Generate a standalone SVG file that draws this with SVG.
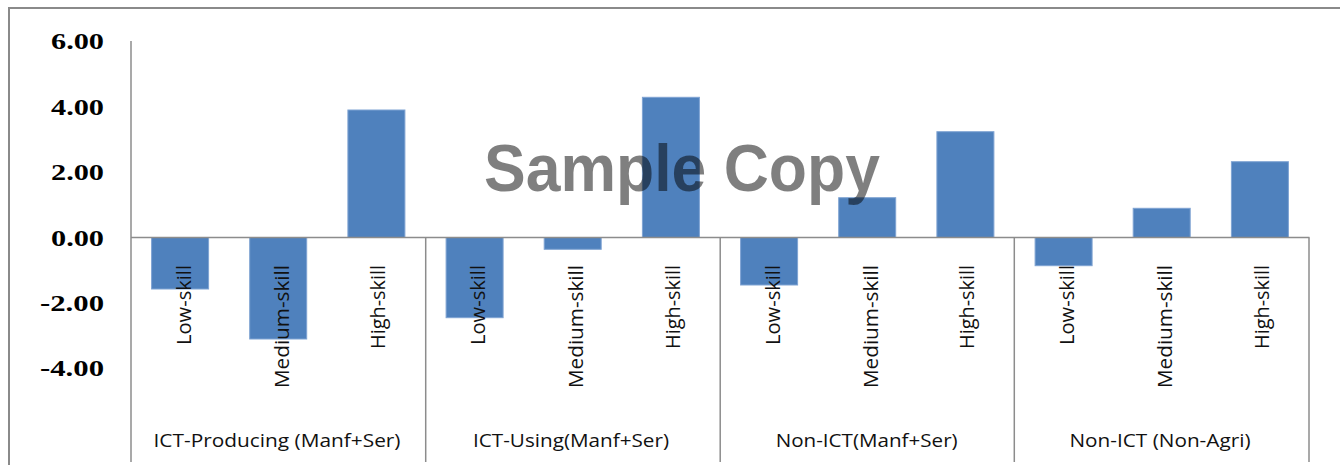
<svg xmlns="http://www.w3.org/2000/svg" width="1340" height="465" viewBox="0 0 1340 465">
<style>
.frame{fill:none;stroke:#8a8a8a;stroke-width:2}
.axis{stroke:#8c8c8c;stroke-width:1.5;fill:none}
.bar{fill:#4F81BD;stroke:#7fa3d3;stroke-width:1}
.tick{font-family:"Liberation Serif","Times New Roman",serif;font-weight:bold;font-size:24px;fill:#000;text-anchor:end}
.skill{font-family:"Open Sans","Liberation Sans",sans-serif;font-size:20px;fill:#111;text-anchor:end}
.cat{font-family:"Open Sans","Liberation Sans",sans-serif;font-size:19px;fill:#111;text-anchor:middle}
.wm{font-family:"Liberation Sans",Arial,sans-serif;font-weight:bold;font-size:67px;fill:#000;fill-opacity:0.5}
</style>
<rect width="1340" height="465" fill="#fff"/>
<rect class="frame" x="9" y="8" width="1345" height="470"/>
<g id="y-axis-labels">
<text class="tick" x="104" y="49" textLength="53" lengthAdjust="spacingAndGlyphs">6.00</text>
<text class="tick" x="104" y="115" textLength="53" lengthAdjust="spacingAndGlyphs">4.00</text>
<text class="tick" x="104" y="180" textLength="53" lengthAdjust="spacingAndGlyphs">2.00</text>
<text class="tick" x="104" y="245.5" textLength="53" lengthAdjust="spacingAndGlyphs">0.00</text>
<text class="tick" x="104" y="311" textLength="64" lengthAdjust="spacingAndGlyphs">-2.00</text>
<text class="tick" x="104" y="376" textLength="64" lengthAdjust="spacingAndGlyphs">-4.00</text>
</g>
<g id="bars">
<g id="g1-bars">
<rect class="bar" x="151.6" y="237.5" width="57" height="51.5"/>
<rect class="bar" x="249.7" y="237.5" width="57" height="101.5"/>
<rect class="bar" x="347.9" y="110" width="57" height="127.5"/>
</g>
<g id="g2-bars">
<rect class="bar" x="446.1" y="237.5" width="57" height="80.2"/>
<rect class="bar" x="544.2" y="237.5" width="57" height="11.8"/>
<rect class="bar" x="642.4" y="97.3" width="57" height="140.2"/>
</g>
<g id="g3-bars">
<rect class="bar" x="740.6" y="237.5" width="57" height="47.5"/>
<rect class="bar" x="838.7" y="197.7" width="57" height="39.8"/>
<rect class="bar" x="936.9" y="131.7" width="57" height="105.8"/>
</g>
<g id="g4-bars">
<rect class="bar" x="1035.1" y="237.5" width="57" height="28.2"/>
<rect class="bar" x="1133.2" y="208.3" width="57" height="29.2"/>
<rect class="bar" x="1231.4" y="161.7" width="57" height="75.8"/>
</g>
</g>
<g id="axes">
<line class="axis" x1="131" y1="41" x2="131" y2="462"/>
<line class="axis" x1="131" y1="237.5" x2="1309.5" y2="237.5"/>
<line class="axis" x1="425.7" y1="237.5" x2="425.7" y2="462"/>
<line class="axis" x1="720.2" y1="237.5" x2="720.2" y2="462"/>
<line class="axis" x1="1014.3" y1="237.5" x2="1014.3" y2="462"/>
<line class="axis" x1="1309" y1="237.5" x2="1309" y2="462"/>
</g>
<g id="skill-labels">
<text class="skill" transform="translate(190.5,265) rotate(-90)" textLength="80" lengthAdjust="spacingAndGlyphs">Low-skill</text>
<text class="skill" transform="translate(288.5,265) rotate(-90)" textLength="123" lengthAdjust="spacingAndGlyphs">Medium-skill</text>
<text class="skill" transform="translate(385,265) rotate(-90)" textLength="84" lengthAdjust="spacingAndGlyphs">High-skill</text>
<text class="skill" transform="translate(485,265) rotate(-90)" textLength="80" lengthAdjust="spacingAndGlyphs">Low-skill</text>
<text class="skill" transform="translate(583,265) rotate(-90)" textLength="123" lengthAdjust="spacingAndGlyphs">Medium-skill</text>
<text class="skill" transform="translate(679.5,265) rotate(-90)" textLength="84" lengthAdjust="spacingAndGlyphs">High-skill</text>
<text class="skill" transform="translate(779.5,265) rotate(-90)" textLength="80" lengthAdjust="spacingAndGlyphs">Low-skill</text>
<text class="skill" transform="translate(877.5,265) rotate(-90)" textLength="123" lengthAdjust="spacingAndGlyphs">Medium-skill</text>
<text class="skill" transform="translate(974,265) rotate(-90)" textLength="84" lengthAdjust="spacingAndGlyphs">High-skill</text>
<text class="skill" transform="translate(1074,265) rotate(-90)" textLength="80" lengthAdjust="spacingAndGlyphs">Low-skill</text>
<text class="skill" transform="translate(1172,265) rotate(-90)" textLength="123" lengthAdjust="spacingAndGlyphs">Medium-skill</text>
<text class="skill" transform="translate(1268.5,265) rotate(-90)" textLength="84" lengthAdjust="spacingAndGlyphs">High-skill</text>
</g>
<g id="category-labels">
<text class="cat" x="277" y="447" textLength="247" lengthAdjust="spacingAndGlyphs">ICT-Producing (Manf+Ser)</text>
<text class="cat" x="571" y="447" textLength="196" lengthAdjust="spacingAndGlyphs">ICT-Using(Manf+Ser)</text>
<text class="cat" x="866.7" y="447" textLength="182" lengthAdjust="spacingAndGlyphs">Non-ICT(Manf+Ser)</text>
<text class="cat" x="1160" y="447" textLength="181" lengthAdjust="spacingAndGlyphs">Non-ICT (Non-Agri)</text>
</g>
<g id="watermark">
<text class="wm" x="484" y="191" textLength="396" lengthAdjust="spacingAndGlyphs">Sample Copy</text>
</g>
</svg>
